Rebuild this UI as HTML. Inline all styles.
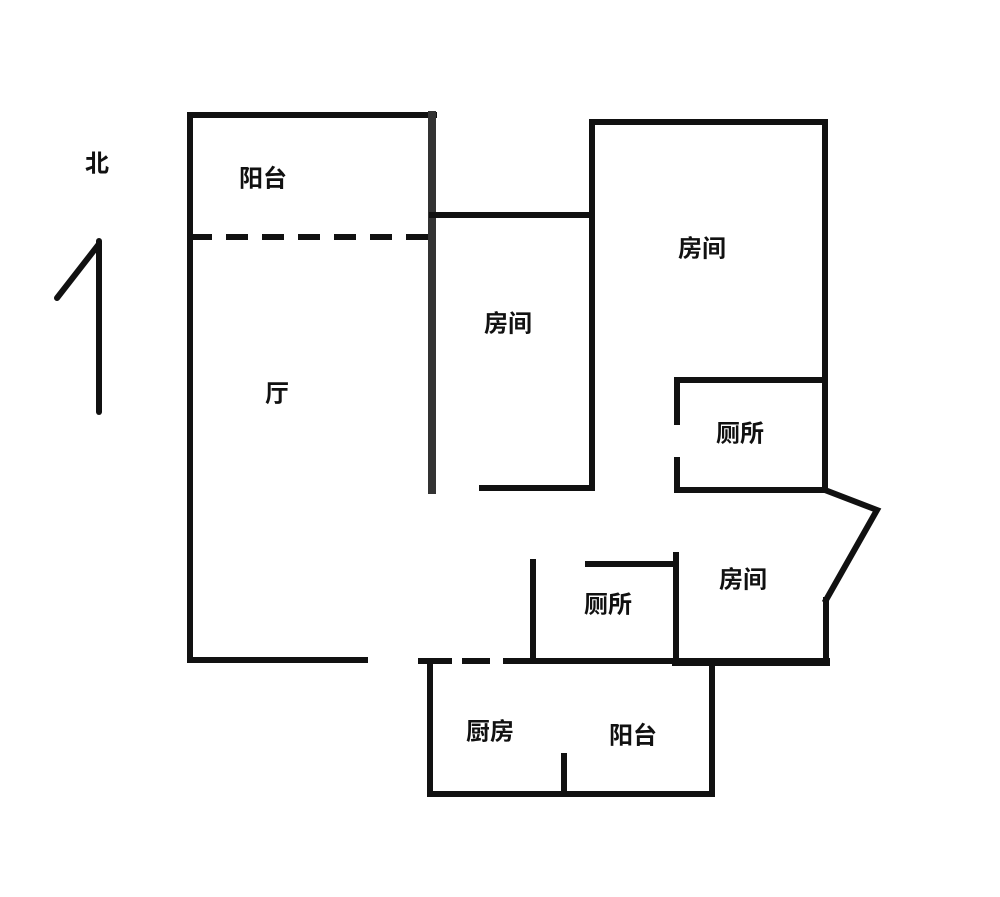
<!DOCTYPE html>
<html><head><meta charset="utf-8"><style>
body{margin:0;background:#fff;}
svg{display:block}
text{font-family:"Liberation Sans","Noto Sans CJK SC",sans-serif;font-size:24px;font-weight:bold;fill:#111;text-anchor:middle;dominant-baseline:middle}
</style></head><body>
<svg width="1000" height="897" viewBox="0 0 1000 897">
<g stroke="#111" stroke-width="6" fill="none" stroke-linecap="square">
<line x1="190" y1="115" x2="434" y2="115"/>
<line x1="190" y1="115" x2="190" y2="660"/>
<line x1="190" y1="660" x2="365" y2="660"/>
<line x1="190" y1="237" x2="430" y2="237" stroke-dasharray="22,14" stroke-linecap="butt"/>
<line x1="432" y1="115" x2="432" y2="490" stroke-width="8" stroke="#333"/>
<line x1="432" y1="215" x2="592" y2="215"/>
<line x1="592" y1="122" x2="592" y2="488"/>
<line x1="482" y1="488" x2="592" y2="488"/>
<line x1="592" y1="122" x2="825" y2="122"/>
<line x1="825" y1="122" x2="825" y2="490"/>
<line x1="677" y1="380" x2="825" y2="380"/>
<line x1="677" y1="380" x2="677" y2="422"/>
<line x1="677" y1="460" x2="677" y2="490"/>
<line x1="677" y1="490" x2="825" y2="490"/>
<polyline points="825,490 877,510 826,600"/>
<line x1="826" y1="600" x2="826" y2="662"/>
<line x1="676" y1="662" x2="826" y2="662" stroke-width="8"/>
<line x1="676" y1="555" x2="676" y2="661"/>
<line x1="588" y1="564" x2="676" y2="564"/>
<line x1="533" y1="562" x2="533" y2="661"/>
<line x1="418" y1="661" x2="452" y2="661" stroke-linecap="butt"/>
<line x1="462" y1="661" x2="490" y2="661" stroke-linecap="butt"/>
<line x1="503" y1="661" x2="712" y2="661" stroke-linecap="butt"/>
<line x1="430" y1="661" x2="430" y2="794"/>
<line x1="430" y1="794" x2="712" y2="794"/>
<line x1="712" y1="661" x2="712" y2="794"/>
<line x1="564" y1="756" x2="564" y2="794"/>
<line x1="99" y1="241" x2="99" y2="412" stroke-linecap="round"/>
<line x1="99" y1="244" x2="57" y2="298" stroke-linecap="round"/>
</g>
<text x="97" y="165">北</text>
<text x="263" y="180">阳台</text>
<text x="508" y="325">房间</text>
<text x="702" y="250">房间</text>
<text x="277" y="395">厅</text>
<text x="740" y="435">厕所</text>
<text x="743" y="581">房间</text>
<text x="608" y="606">厕所</text>
<text x="490" y="733">厨房</text>
<text x="633" y="737">阳台</text>
</svg>
</body></html>
